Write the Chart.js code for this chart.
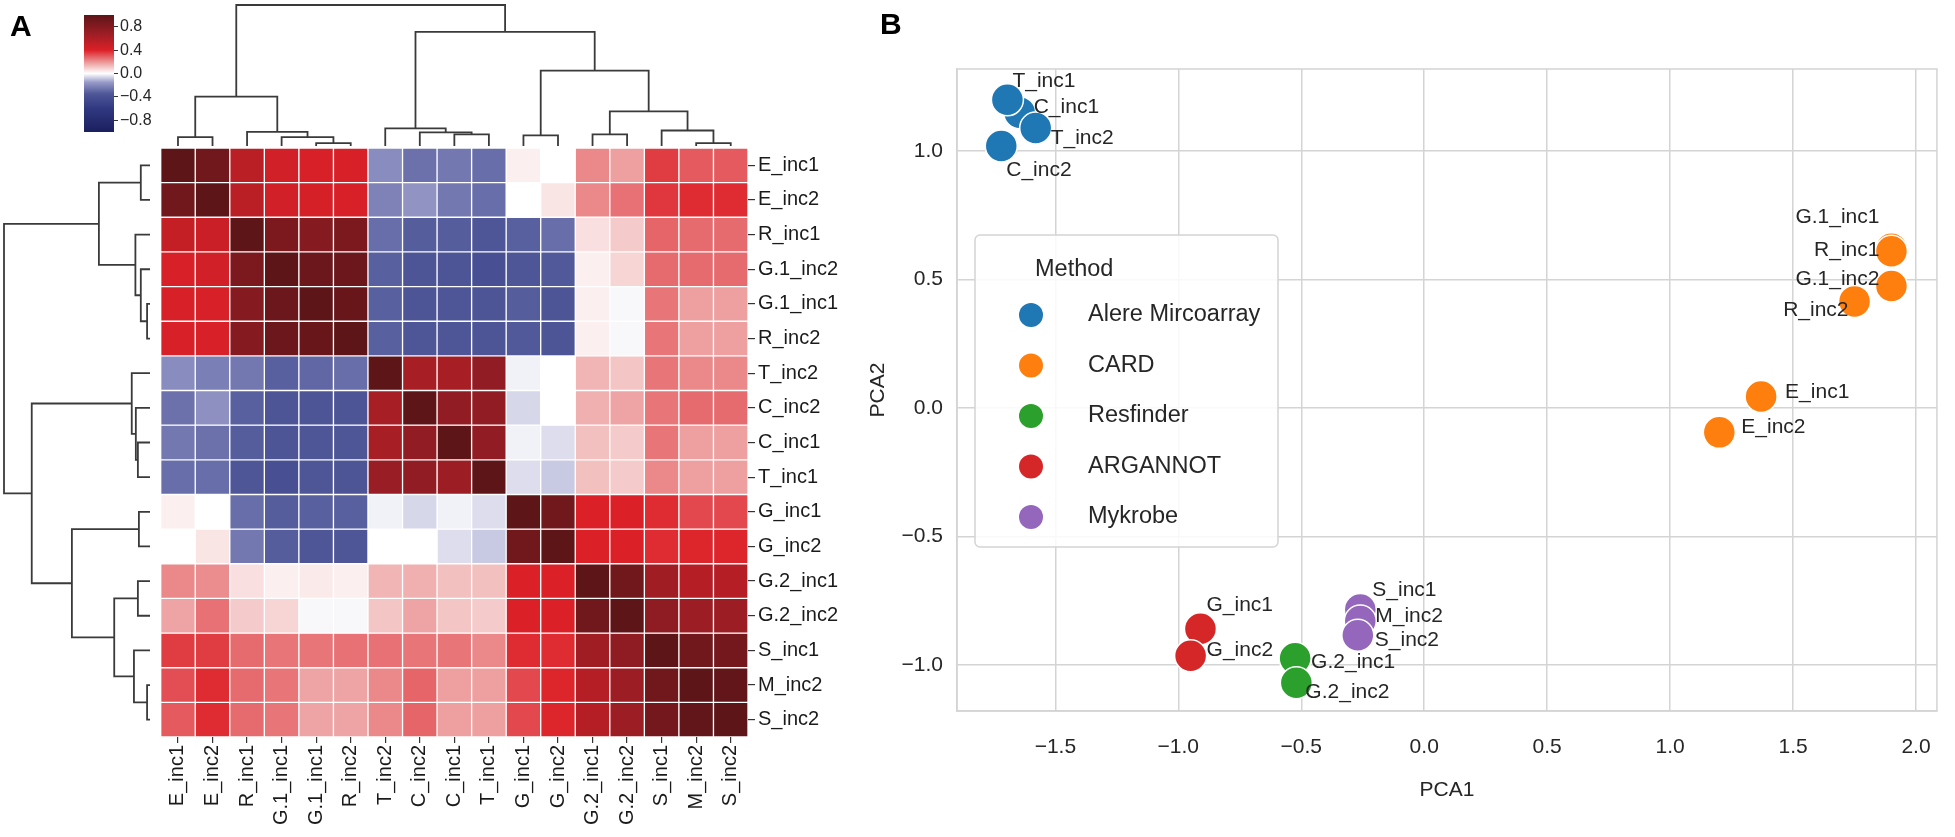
<!DOCTYPE html>
<html>
<head>
<meta charset="utf-8">
<script src="https://cdn.jsdelivr.net/npm/chart.js@4.4.1/dist/chart.umd.min.js"></script>
<style>
  html, body { margin: 0; padding: 0; background: #fff; }
  #wrap { position: relative; width: 1955px; height: 837px; overflow: hidden; font-family: 'Liberation Sans', Arial, sans-serif; }
  #wrap canvas { position: absolute; left: 0; top: 0; }
  .panel { position: absolute; font-weight: bold; font-size: 30px; line-height: 30px; color: #000; }
</style>
</head>
<body>
<div id="wrap">
  <canvas id="heat" width="1955" height="837"></canvas>
  <canvas id="dendTop" width="1955" height="837"></canvas>
  <canvas id="dendLeft" width="1955" height="837"></canvas>
  <canvas id="cbar" width="1955" height="837"></canvas>
  <canvas id="pca" width="1955" height="837"></canvas>
  <div class="panel" style="left:10px;top:11px">A</div>
  <div class="panel" style="left:880px;top:9px">B</div>
</div>
<script>
// ---- Panel A data: correlation matrix, in clustered order ----
var rowLabels = ['E_inc1', 'E_inc2', 'R_inc1', 'G.1_inc2', 'G.1_inc1', 'R_inc2', 'T_inc2', 'C_inc2',
  'C_inc1', 'T_inc1', 'G_inc1', 'G_inc2', 'G.2_inc1', 'G.2_inc2', 'S_inc1', 'M_inc2', 'S_inc2'];
var colLabels = ['E_inc1', 'E_inc2', 'R_inc1', 'G.1_inc1', 'G.1_inc1', 'R_inc2', 'T_inc2', 'C_inc2',
  'C_inc1', 'T_inc1', 'G_inc1', 'G_inc2', 'G.2_inc1', 'G.2_inc2', 'S_inc1', 'M_inc2', 'S_inc2'];

var corr = [
  [1.00, 0.90, 0.55, 0.45, 0.42, 0.42, -0.19, -0.27, -0.25, -0.28, 0.03, 0.00, 0.22, 0.18, 0.35, 0.30, 0.30],
  [0.90, 1.00, 0.55, 0.45, 0.43, 0.42, -0.22, -0.17, -0.25, -0.28, 0.00, 0.05, 0.22, 0.26, 0.36, 0.38, 0.38],
  [0.50, 0.48, 1.00, 0.85, 0.80, 0.85, -0.28, -0.33, -0.33, -0.35, -0.32, -0.28, 0.06, 0.10, 0.28, 0.27, 0.27],
  [0.42, 0.45, 0.85, 1.00, 0.93, 0.93, -0.32, -0.36, -0.36, -0.40, -0.35, -0.34, 0.03, 0.08, 0.27, 0.27, 0.27],
  [0.42, 0.42, 0.80, 0.93, 1.00, 0.95, -0.32, -0.36, -0.35, -0.36, -0.33, -0.36, 0.03, -0.01, 0.25, 0.18, 0.18],
  [0.42, 0.42, 0.80, 0.93, 0.95, 1.00, -0.32, -0.35, -0.35, -0.36, -0.34, -0.36, 0.03, -0.01, 0.25, 0.18, 0.18],
  [-0.19, -0.23, -0.25, -0.32, -0.30, -0.28, 1.00, 0.63, 0.63, 0.73, -0.02, 0.00, 0.14, 0.11, 0.25, 0.22, 0.22],
  [-0.27, -0.18, -0.32, -0.36, -0.36, -0.36, 0.63, 1.00, 0.73, 0.73, -0.06, 0.00, 0.15, 0.17, 0.25, 0.27, 0.27],
  [-0.25, -0.27, -0.33, -0.36, -0.35, -0.35, 0.63, 0.73, 1.00, 0.73, -0.02, -0.05, 0.12, 0.10, 0.25, 0.18, 0.18],
  [-0.28, -0.28, -0.35, -0.40, -0.35, -0.36, 0.70, 0.73, 0.68, 1.00, -0.05, -0.08, 0.12, 0.10, 0.22, 0.18, 0.18],
  [0.03, 0.00, -0.28, -0.33, -0.32, -0.32, -0.02, -0.06, -0.02, -0.05, 1.00, 0.90, 0.40, 0.40, 0.38, 0.33, 0.33],
  [0.00, 0.05, -0.25, -0.33, -0.35, -0.35, 0.00, 0.00, -0.05, -0.08, 0.90, 1.00, 0.40, 0.40, 0.38, 0.39, 0.39],
  [0.22, 0.21, 0.06, 0.03, 0.04, 0.03, 0.14, 0.15, 0.12, 0.12, 0.40, 0.40, 1.00, 0.90, 0.66, 0.57, 0.57],
  [0.17, 0.26, 0.10, 0.08, -0.01, -0.01, 0.11, 0.17, 0.11, 0.10, 0.40, 0.40, 0.90, 1.00, 0.75, 0.68, 0.68],
  [0.35, 0.35, 0.27, 0.25, 0.25, 0.26, 0.26, 0.25, 0.25, 0.22, 0.38, 0.38, 0.66, 0.75, 1.00, 0.90, 0.88],
  [0.32, 0.38, 0.27, 0.25, 0.17, 0.17, 0.22, 0.28, 0.18, 0.18, 0.33, 0.39, 0.57, 0.68, 0.90, 1.00, 0.98],
  [0.30, 0.38, 0.27, 0.25, 0.17, 0.17, 0.22, 0.28, 0.18, 0.18, 0.33, 0.39, 0.57, 0.68, 0.88, 0.98, 1.00]
];

// linkage: [child a, child b, height]; ids >= 17 refer to earlier merges
var linkage = [
  [4, 5, 0.02], [3, 17, 0.063], [2, 18, 0.10], [0, 1, 0.063], [20, 19, 0.35],
  [8, 9, 0.083], [7, 22, 0.097], [6, 23, 0.125], [10, 11, 0.076], [12, 13, 0.083],
  [15, 16, 0.02], [14, 27, 0.11], [26, 28, 0.245], [25, 29, 0.535], [24, 30, 0.81],
  [21, 31, 1.0]
];

var cbarTicks = [-0.8, -0.4, 0.0, 0.4, 0.8];

// ---- Panel B data: PCA coordinates ----
var methods = ['Alere Mircoarray', 'CARD', 'Resfinder', 'ARGANNOT', 'Mykrobe'];
var sampleNames = ['C_inc1', 'T_inc1', 'T_inc2', 'C_inc2', 'G.1_inc1', 'R_inc1', 'G.1_inc2', 'R_inc2',
  'E_inc1', 'E_inc2', 'G.2_inc1', 'G.2_inc2', 'G_inc1', 'G_inc2', 'S_inc1', 'M_inc2', 'S_inc2'];
var sampleMethod = [0, 0, 0, 0, 1, 1, 1, 1, 1, 1, 2, 2, 3, 3, 4, 4, 4];
var pca1 = [-1.645, -1.695, -1.58, -1.72, 1.90, 1.90, 1.90, 1.75, 1.37, 1.20, -0.525, -0.52, -0.91, -0.95, -0.26, -0.26, -0.27];
var pca2 = [1.15, 1.20, 1.09, 1.02, 0.62, 0.61, 0.475, 0.415, 0.045, -0.095, -0.975, -1.07, -0.86, -0.965, -0.785, -0.83, -0.885];
var pcaXTicks = [-1.5, -1.0, -0.5, 0.0, 0.5, 1.0, 1.5, 2.0];
var pcaYTicks = [-1.0, -0.5, 0.0, 0.5, 1.0];

// ---- styles / layout ----
var FONT = "'Liberation Sans', Arial, sans-serif";
var methodColors = ['#1f77b4', '#ff7f0e', '#2ca02c', '#d62728', '#9467bd'];
var cmapStops = [
  [-1.0, [26, 31, 94]],
  [-0.6, [48, 56, 128]],
  [-0.35, [78, 86, 152]],
  [-0.15, [152, 154, 200]],
  [0.0, [255, 255, 255]],
  [0.15, [240, 176, 176]],
  [0.4, [220, 32, 39]],
  [0.7, [152, 29, 36]],
  [1.0, [94, 21, 24]]
];
// text offsets (px) of the PCA point labels
var labelOffsets = {
  'T_inc1': [5, -19, 'left'], 'C_inc1': [14, -5, 'left'], 'T_inc2': [15, 10, 'left'], 'C_inc2': [5, 24, 'left'],
  'G.1_inc1': [-12, -32, 'right'], 'R_inc1': [-12, -1, 'right'], 'G.1_inc2': [-12, -7, 'right'], 'R_inc2': [-6, 9, 'right'],
  'E_inc1': [24, -4, 'left'], 'E_inc2': [22, -5, 'left'],
  'G_inc1': [6, -24, 'left'], 'G_inc2': [16, -6, 'left'],
  'G.2_inc1': [16, 4, 'left'], 'G.2_inc2': [9, 9, 'left'],
  'S_inc1': [12, -19, 'left'], 'M_inc2': [15, -5, 'left'], 'S_inc2': [17, 5, 'left']
};

Chart.defaults.font.family = FONT;
Chart.defaults.color = '#262626';
Chart.defaults.animation = false;

var W = 1955, H = 837;
var heat = { left: 160.7, top: 148, right: 748, bottom: 737 };

function rgb(c) { return 'rgb(' + c[0] + ',' + c[1] + ',' + c[2] + ')'; }

function cmap(v) {
  for (var i = 1; i < cmapStops.length; i++) {
    var v0 = cmapStops[i - 1][0], c0 = cmapStops[i - 1][1];
    var v1 = cmapStops[i][0], c1 = cmapStops[i][1];
    if (v <= v1) {
      var t = (v - v0) / (v1 - v0);
      return rgb(c0.map(function (c, k) { return Math.round(c + (c1[k] - c) * t); }));
    }
  }
  return rgb(cmapStops[cmapStops.length - 1][1]);
}

function fmtTick(v) {
  return v.toFixed(1).replace('-', '\u2212');
}

var baseOpts = {
  responsive: false,
  events: [],
  plugins: { legend: { display: false }, tooltip: { enabled: false } }
};

// Heatmap: one floating bar dataset per row
new Chart(document.getElementById('heat'), {
  type: 'bar',
  data: {
    labels: colLabels,
    datasets: corr.map(function (row, r) {
      return {
        data: row.map(function () { return [r, r + 1]; }),
        backgroundColor: row.map(cmap),
        borderColor: '#ffffff',
        borderWidth: 1,
        borderSkipped: false,
        barPercentage: 1,
        categoryPercentage: 1,
        grouped: false
      };
    })
  },
  options: Object.assign({}, baseOpts, {
    layout: { padding: { left: heat.left, top: heat.top, right: W - heat.right - 130, bottom: 0 } },
    scales: {
      x: {
        position: 'bottom',
        grid: { offset: false, drawOnChartArea: false, tickLength: 6, tickColor: '#333', lineWidth: 1.2 },
        border: { display: false },
        ticks: { minRotation: 90, maxRotation: 90, autoSkip: false, padding: 2, color: '#1a1a1a', font: { size: 20 } },
        afterFit: function (s) { s.height = H - heat.bottom; }
      },
      y: {
        type: 'linear', position: 'right', min: 0, max: rowLabels.length, reverse: true,
        grid: { drawOnChartArea: false, tickLength: 7, tickColor: '#333', lineWidth: 1.2 },
        border: { display: false },
        afterBuildTicks: function (s) { s.ticks = rowLabels.map(function (_, i) { return { value: i + 0.5 }; }); },
        ticks: { autoSkip: false, padding: 3, color: '#1a1a1a', font: { size: 20 },
          callback: function (v, i) { return rowLabels[i]; } },
        afterFit: function (s) { s.width = 130; }
      }
    }
  })
});

// Dendrogram links from the linkage table
function dendroLinks() {
  var pos = rowLabels.map(function (_, i) { return i + 0.5; });
  var hgt = rowLabels.map(function () { return 0; });
  var links = [];
  linkage.forEach(function (m) {
    var a = m[0], b = m[1], h = m[2];
    links.push([[pos[a], hgt[a]], [pos[a], h], [pos[b], h], [pos[b], hgt[b]]]);
    pos.push((pos[a] + pos[b]) / 2);
    hgt.push(h);
  });
  return links;
}

function dendroChart(id, vertical, padding) {
  var links = dendroLinks();
  return new Chart(document.getElementById(id), {
    type: 'scatter',
    data: {
      datasets: links.map(function (link) {
        return {
          data: link.map(function (p) { return vertical ? { x: p[0], y: p[1] } : { x: p[1], y: p[0] }; }),
          showLine: true, pointRadius: 0, borderColor: '#3a3a3a', borderWidth: 1.8, clip: false
        };
      })
    },
    options: Object.assign({}, baseOpts, {
      layout: { padding: padding },
      scales: vertical ? {
        x: { display: false, min: 0, max: colLabels.length },
        y: { display: false, min: 0, max: 1 }
      } : {
        x: { display: false, min: 0, max: 1, reverse: true },
        y: { display: false, min: 0, max: rowLabels.length, reverse: true }
      }
    })
  });
}

dendroChart('dendTop', true, { left: heat.left, right: W - heat.right, top: 5, bottom: H - 146 });
dendroChart('dendLeft', false, { left: 4, right: W - 150, top: heat.top, bottom: H - heat.bottom });

// Colour bar
new Chart(document.getElementById('cbar'), {
  type: 'bar',
  data: {
    labels: [''],
    datasets: [{
      data: [[-1, 1]],
      barPercentage: 1,
      categoryPercentage: 1,
      backgroundColor: function (ctx) {
        var a = ctx.chart.chartArea;
        if (!a) return null;
        var g = ctx.chart.ctx.createLinearGradient(0, a.bottom, 0, a.top);
        cmapStops.forEach(function (s) { g.addColorStop((s[0] + 1) / 2, rgb(s[1])); });
        return g;
      }
    }]
  },
  options: Object.assign({}, baseOpts, {
    layout: { padding: { left: 84, top: 15, right: W - 114 - 60, bottom: H - 132 } },
    scales: {
      x: { display: false },
      y: {
        position: 'right', min: -1, max: 1,
        afterBuildTicks: function (s) { s.ticks = cbarTicks.map(function (v) { return { value: v }; }); },
        grid: { drawOnChartArea: false, tickLength: 4, tickColor: '#333' },
        border: { display: false },
        ticks: { padding: 2, color: '#262626', font: { size: 16 }, callback: fmtTick },
        afterFit: function (s) { s.width = 60; }
      }
    }
  })
});

// PCA scatter
var framePlugin = {
  id: 'frame',
  beforeDatasetsDraw: function (chart) {
    var a = chart.chartArea, c = chart.ctx;
    c.save();
    c.strokeStyle = '#d4d4d4';
    c.lineWidth = 1.5;
    c.strokeRect(a.left, a.top, a.right - a.left, a.bottom - a.top);
    c.restore();
  }
};

var pointLabelPlugin = {
  id: 'pointLabels',
  afterDatasetsDraw: function (chart) {
    var c = chart.ctx;
    c.save();
    c.font = '21px ' + FONT;
    c.fillStyle = '#262626';
    c.textBaseline = 'middle';
    chart.data.datasets.forEach(function (ds, di) {
      var meta = chart.getDatasetMeta(di);
      ds.names.forEach(function (name, i) {
        var el = meta.data[i], off = labelOffsets[name];
        c.textAlign = off[2];
        c.fillText(name, el.x + off[0], el.y + off[1]);
      });
    });
    c.restore();
  }
};

var legendPlugin = {
  id: 'methodLegend',
  afterDraw: function (chart) {
    var a = chart.chartArea, c = chart.ctx;
    var x0 = a.left + 18, y0 = a.top + 166, w = 303, h = 312;
    c.save();
    c.fillStyle = 'rgba(255,255,255,0.85)';
    c.strokeStyle = '#d4d4d4';
    c.lineWidth = 1.5;
    c.beginPath();
    c.roundRect(x0, y0, w, h, 5);
    c.fill();
    c.stroke();
    c.font = '23.5px ' + FONT;
    c.fillStyle = '#262626';
    c.textBaseline = 'middle';
    c.textAlign = 'left';
    c.fillText('Method', x0 + 60, y0 + 35);
    chart.data.datasets.forEach(function (ds, i) {
      var y = y0 + 80 + i * 50.5;
      c.beginPath();
      c.arc(x0 + 56, y, 12, 0, Math.PI * 2);
      c.fillStyle = ds.backgroundColor;
      c.fill();
      c.fillStyle = '#262626';
      c.fillText(ds.label, x0 + 113, y);
    });
    c.restore();
  }
};

var pcaDatasets = methods.map(function (m, k) {
  var idx = sampleMethod.map(function (g, i) { return g === k ? i : -1; }).filter(function (i) { return i >= 0; });
  return {
    label: m,
    names: idx.map(function (i) { return sampleNames[i]; }),
    data: idx.map(function (i) { return { x: pca1[i], y: pca2[i] }; }),
    backgroundColor: methodColors[k],
    borderColor: '#ffffff',
    borderWidth: 1.5,
    pointRadius: 16
  };
});

var gridStyle = { color: '#d4d4d4', lineWidth: 1.5, drawTicks: false };

new Chart(document.getElementById('pca'), {
  type: 'scatter',
  data: { datasets: pcaDatasets },
  options: Object.assign({}, baseOpts, {
    layout: { padding: { left: 862, top: 69, right: 3, bottom: 30 } },
    scales: {
      x: {
        min: -1.90, max: 2.085,
        afterBuildTicks: function (s) { s.ticks = pcaXTicks.map(function (v) { return { value: v }; }); },
        grid: gridStyle,
        border: { color: '#d4d4d4', width: 1.5 },
        ticks: { padding: 24, font: { size: 21 }, callback: fmtTick },
        title: { display: true, text: 'PCA1', font: { size: 21 } },
        afterFit: function (s) { s.height = 96; }
      },
      y: {
        min: -1.18, max: 1.32,
        afterBuildTicks: function (s) { s.ticks = pcaYTicks.map(function (v) { return { value: v }; }); },
        grid: gridStyle,
        border: { color: '#d4d4d4', width: 1.5 },
        ticks: { padding: 14, font: { size: 21 }, callback: fmtTick },
        title: { display: true, text: 'PCA2', font: { size: 21 } },
        afterFit: function (s) { s.width = 95; }
      }
    }
  }),
  plugins: [framePlugin, pointLabelPlugin, legendPlugin]
});
</script>
</body>
</html>
